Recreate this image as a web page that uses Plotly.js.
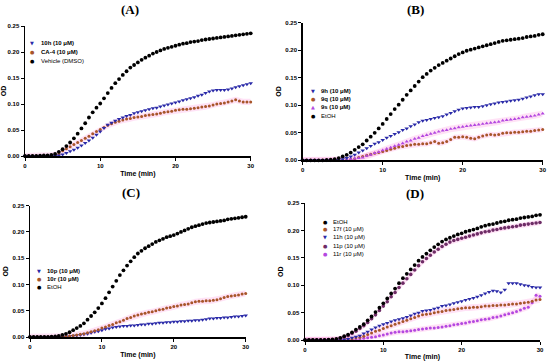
<!DOCTYPE html>
<html><head><meta charset="utf-8">
<script src="https://cdn.plot.ly/plotly-3.0.1.min.js"></script>
<style>html,body{margin:0;padding:0;background:#fff}#c{width:550px;height:361px}</style>
</head><body><div id="c"></div>
<script>
// time points (min), every 0.5 min
var time = [];
for (var i = 0; i <= 60; i++) time.push(i / 2);

// Panel A
var A_10h = [0,0,0,0,0,0,0,0,0.0005,0.001, 0.003,0.006,0.009,0.012,0.016,0.020,0.025,0.030,0.035,0.041, 0.047,0.054,0.060,0.064,0.068,0.071,0.074,0.077,0.079,0.082, 0.084,0.086,0.088,0.090,0.092,0.093,0.095,0.097,0.099,0.101, 0.103,0.105,0.107,0.109,0.111,0.113,0.116,0.118,0.121,0.124, 0.126,0.127,0.127,0.127,0.128,0.130,0.132,0.134,0.136,0.138,0.140];
var A_CA4 = [0,0,0,0,0,0,0.0005,0.001,0.002,0.004, 0.010,0.014,0.018,0.022,0.026,0.030,0.034,0.038,0.043,0.047, 0.051,0.055,0.059,0.062,0.065,0.067,0.069,0.071,0.072,0.074, 0.075,0.076,0.078,0.079,0.080,0.081,0.082,0.084,0.085,0.086, 0.088,0.089,0.090,0.090,0.091,0.092,0.093,0.094,0.095,0.096, 0.098,0.100,0.101,0.102,0.104,0.106,0.108,0.106,0.104,0.104,0.104];
var A_DMSO = [0,0,0,0,0.0005,0.001,0.001,0.002,0.004,0.008, 0.013,0.019,0.026,0.034,0.043,0.053,0.063,0.074,0.084,0.093, 0.101,0.111,0.121,0.131,0.140,0.148,0.156,0.163,0.170,0.175, 0.180,0.185,0.189,0.193,0.197,0.200,0.203,0.206,0.208,0.210, 0.212,0.214,0.216,0.217,0.219,0.220,0.221,0.223,0.224,0.225, 0.226,0.227,0.228,0.229,0.230,0.231,0.232,0.233,0.234,0.235,0.236];

// Panel B
var B_9h = [0,0,0,0,0,0,0,0,0.0005,0.001, 0.002,0.004,0.007,0.010,0.014,0.018,0.022,0.026,0.030,0.033, 0.037,0.041,0.044,0.048,0.051,0.055,0.058,0.062,0.065,0.069, 0.072,0.073,0.075,0.077,0.078,0.080,0.083,0.086,0.089,0.092, 0.094,0.095,0.096,0.097,0.097,0.098,0.100,0.102,0.103,0.105, 0.106,0.107,0.108,0.109,0.110,0.112,0.114,0.116,0.118,0.120,0.120];
var B_9q = [0,0,0,0,0,0,0,0,0,0, 0.0005,0.001,0.002,0.003,0.005,0.007,0.009,0.011,0.013,0.014, 0.016,0.018,0.020,0.022,0.024,0.025,0.027,0.028,0.029,0.029, 0.030,0.030,0.032,0.034,0.031,0.032,0.034,0.038,0.042,0.042, 0.043,0.042,0.040,0.039,0.042,0.044,0.046,0.047,0.046,0.047, 0.049,0.050,0.050,0.051,0.051,0.052,0.053,0.053,0.054,0.055,0.056];
var B_9s = [0,0,0,0,0,0,0,0,0,0, 0.0005,0.001,0.002,0.003,0.004,0.005,0.008,0.010,0.013,0.015, 0.018,0.021,0.023,0.026,0.028,0.031,0.034,0.036,0.039,0.041, 0.044,0.046,0.048,0.050,0.052,0.054,0.055,0.057,0.058,0.060, 0.061,0.062,0.063,0.064,0.065,0.066,0.067,0.068,0.069,0.070, 0.072,0.073,0.074,0.075,0.076,0.078,0.079,0.080,0.081,0.083,0.085];
var B_EtOH = [0,0,0,0,0,0,0.0005,0.001,0.002,0.004, 0.007,0.010,0.014,0.019,0.024,0.029,0.036,0.043,0.050,0.058, 0.066,0.075,0.084,0.093,0.101,0.110,0.119,0.127,0.135,0.143, 0.151,0.157,0.163,0.168,0.173,0.177,0.181,0.185,0.189,0.193, 0.196,0.199,0.201,0.203,0.205,0.207,0.209,0.211,0.213,0.215, 0.217,0.218,0.219,0.220,0.221,0.222,0.224,0.225,0.226,0.228,0.229];

// Panel C
var C_10p = [0,0,0,0,0,0,0,0,0,0, 0.0005,0.001,0.002,0.003,0.004,0.005,0.006,0.008,0.010,0.011, 0.013,0.015,0.016,0.018,0.019,0.020,0.021,0.021,0.022,0.022, 0.023,0.024,0.024,0.025,0.025,0.026,0.027,0.027,0.028,0.028, 0.029,0.029,0.030,0.030,0.031,0.031,0.032,0.032,0.033,0.034, 0.035,0.035,0.036,0.036,0.037,0.037,0.038,0.039,0.039,0.040,0.041];
var C_10r = [0,0,0,0,0,0,0,0,0,0.0005, 0.001,0.002,0.003,0.004,0.005,0.006,0.008,0.010,0.012,0.014, 0.017,0.019,0.022,0.024,0.027,0.029,0.032,0.035,0.037,0.040, 0.042,0.044,0.045,0.047,0.048,0.050,0.052,0.053,0.055,0.056, 0.058,0.059,0.061,0.062,0.063,0.065,0.067,0.068,0.068,0.069, 0.069,0.070,0.071,0.073,0.075,0.077,0.078,0.079,0.080,0.082,0.083];
var C_EtOH = [0,0,0,0,0,0,0.0005,0.001,0.002,0.004, 0.006,0.009,0.013,0.017,0.021,0.026,0.033,0.040,0.047,0.055, 0.064,0.074,0.085,0.096,0.107,0.118,0.127,0.136,0.144,0.152, 0.159,0.164,0.169,0.173,0.177,0.181,0.184,0.187,0.190,0.192, 0.194,0.197,0.200,0.203,0.206,0.209,0.211,0.213,0.215,0.217, 0.218,0.219,0.220,0.221,0.222,0.224,0.225,0.226,0.227,0.228,0.229];

// Panel D
var D_EtOH = [0,0,0,0,0,0,0.0005,0.001,0.002,0.004, 0.007,0.010,0.014,0.019,0.024,0.029,0.036,0.043,0.051,0.059, 0.067,0.076,0.085,0.094,0.104,0.113,0.121,0.129,0.137,0.145, 0.152,0.158,0.164,0.170,0.175,0.180,0.184,0.187,0.190,0.193, 0.195,0.198,0.200,0.202,0.204,0.207,0.209,0.211,0.212,0.214, 0.216,0.217,0.219,0.220,0.221,0.223,0.224,0.225,0.226,0.228,0.229];
var D_17f = [0,0,0,0,0,0,0,0,0,0, 0.0005,0.001,0.002,0.004,0.005,0.007,0.010,0.013,0.016,0.018, 0.021,0.024,0.026,0.029,0.031,0.034,0.036,0.039,0.041,0.044, 0.046,0.047,0.048,0.050,0.051,0.052,0.054,0.055,0.056,0.057, 0.058,0.059,0.059,0.060,0.060,0.061,0.062,0.062,0.063,0.063, 0.064,0.064,0.065,0.066,0.066,0.067,0.068,0.069,0.071,0.073,0.074];
var D_11h = [0,0,0,0,0,0,0,0,0,0, 0.001,0.002,0.004,0.006,0.008,0.012,0.015,0.019,0.023,0.026, 0.029,0.031,0.034,0.036,0.038,0.040,0.042,0.045,0.048,0.050, 0.053,0.054,0.055,0.057,0.059,0.062,0.063,0.065,0.067,0.069, 0.071,0.073,0.075,0.077,0.079,0.082,0.085,0.088,0.090,0.089, 0.087,0.092,0.104,0.104,0.104,0.102,0.100,0.099,0.097,0.096,0.096];
var D_11p = [0,0,0,0,0,0,0,0.0005,0.001,0.003, 0.005,0.008,0.012,0.016,0.021,0.026,0.032,0.039,0.046,0.054, 0.062,0.070,0.079,0.087,0.096,0.104,0.112,0.120,0.128,0.136, 0.143,0.149,0.155,0.161,0.166,0.171,0.175,0.179,0.182,0.184, 0.186,0.188,0.190,0.192,0.194,0.196,0.198,0.199,0.201,0.202, 0.204,0.205,0.206,0.207,0.208,0.210,0.211,0.212,0.213,0.214,0.215];
var D_11r = [0,0,0,0,0,0,0,0,0,0, 0,0,0.0005,0.001,0.002,0.003,0.004,0.005,0.006,0.008, 0.009,0.011,0.013,0.014,0.015,0.015,0.016,0.017,0.018,0.019, 0.020,0.021,0.022,0.022,0.023,0.024,0.025,0.026,0.028,0.029, 0.030,0.031,0.033,0.034,0.035,0.037,0.038,0.039,0.041,0.042, 0.044,0.046,0.048,0.050,0.052,0.055,0.058,0.060,0.068,0.082,0.080];

// error band half-widths (SEM)
var semA_CA4 = 0.006, semB_9q = 0.005, semB_9s = 0.006, semC_10r = 0.006;
var semD_11p = 0.005, semD_17f = 0.006, semD_11r = 0.005;

var yTicks = [0, 0.05, 0.10, 0.15, 0.20, 0.25];
var xTicks = [0, 10, 20, 30];

var BLACK = '#000000', BLUE = '#2a2aa8', ORANGE = '#a8552a', VIOLET = '#b448e0', PLUM = '#6e2c66';
var PINK = 'rgba(255,160,225,0.30)';

var traces = [];
function band(vals, sem, ax) {
  var xs = time.concat(time.slice().reverse());
  var up = vals.map(function(v){return v + sem;});
  var lo = vals.map(function(v){return Math.max(0, v - sem);}).reverse();
  traces.push({x: xs, y: up.concat(lo), xaxis: 'x' + ax, yaxis: 'y' + ax, type: 'scatter', mode: 'lines',
    fill: 'toself', fillcolor: PINK, line: {width: 0}, hoverinfo: 'skip', showlegend: false});
}
function series(vals, ax, color, symbol, size) {
  traces.push({x: time, y: vals, xaxis: 'x' + ax, yaxis: 'y' + ax, type: 'scatter', mode: 'markers',
    marker: {color: color, symbol: symbol, size: size, line: {width: 0}}, cliponaxis: false, showlegend: false});
}

band(A_CA4, semA_CA4, 1);
series(A_CA4, 1, ORANGE, 'circle', 3);
series(A_10h, 1, BLUE, 'triangle-down', 4);
series(A_DMSO, 1, BLACK, 'circle', 3.8);

band(B_9q, semB_9q, 2); band(B_9s, semB_9s, 2);
series(B_9q, 2, ORANGE, 'circle', 3);
series(B_9s, 2, VIOLET, 'triangle-up', 3.6);
series(B_9h, 2, BLUE, 'triangle-down', 4);
series(B_EtOH, 2, BLACK, 'circle', 3.8);

band(C_10r, semC_10r, 3);
series(C_10p, 3, BLUE, 'triangle-down', 4);
series(C_10r, 3, ORANGE, 'circle', 3);
series(C_EtOH, 3, BLACK, 'circle', 3.8);

band(D_11p, semD_11p, 4); band(D_17f, semD_17f, 4); band(D_11r, semD_11r, 4);
series(D_11r, 4, VIOLET, 'circle', 3);
series(D_17f, 4, ORANGE, 'circle', 3);
series(D_11h, 4, BLUE, 'triangle-down', 4);
series(D_11p, 4, PLUM, 'circle', 3.6);
series(D_EtOH, 4, BLACK, 'circle', 3.8);

var W = 550, H = 361;
function px(x){return x / W;} function py(y){return 1 - y / H;}
function xa(x0, x1, anchor) {
  return {domain: [px(x0), px(x1)], range: [0, 30], anchor: anchor, tickvals: xTicks, ticktext: xTicks.map(String),
    showgrid: false, zeroline: false, showline: true, linecolor: '#000', linewidth: 1.5,
    ticks: 'outside', ticklen: 3, tickwidth: 1, tickcolor: '#000',
    tickfont: {family: 'Liberation Sans, Arial', size: 6, color: '#000', weight: 'bold'},
    title: {text: 'Time (min)', font: {family: 'Liberation Sans, Arial', size: 7, color: '#000', weight: 'bold'}, standoff: 3},
    fixedrange: true};
}
function ya(y0, y1, anchor) {
  return {domain: [py(y0), py(y1)], range: [0, 0.25], anchor: anchor, tickvals: yTicks,
    ticktext: yTicks.map(function(v){return v.toFixed(2);}),
    showgrid: false, zeroline: false, showline: true, linecolor: '#000', linewidth: 1.5,
    ticks: 'outside', ticklen: 3, tickwidth: 1, tickcolor: '#000',
    tickfont: {family: 'Liberation Sans, Arial', size: 6, color: '#000', weight: 'bold'},
    title: {text: 'OD', font: {family: 'Liberation Sans, Arial', size: 7, color: '#000', weight: 'bold'}, standoff: 3},
    fixedrange: true};
}

var ann = [];
function title(t, x, y) {
  ann.push({text: t, x: px(x), y: py(y), xref: 'paper', yref: 'paper', showarrow: false, xanchor: 'center', yanchor: 'middle',
    font: {family: 'Liberation Serif, Times New Roman, serif', size: 13, color: '#000', weight: 'bold'}});
}
function legendItem(sym, color, label, mx, tx, y, bold) {
  ann.push({text: sym, x: px(mx), y: py(y), xref: 'paper', yref: 'paper', showarrow: false, xanchor: 'center', yanchor: 'middle',
    font: {family: 'DejaVu Sans', size: 5, color: color}});
  ann.push({text: label, x: px(tx), y: py(y), xref: 'paper', yref: 'paper', showarrow: false, xanchor: 'left', yanchor: 'middle',
    font: {family: 'Liberation Sans, Arial', size: 6, color: '#000', weight: bold ? 'bold' : 'normal'}});
}
title('(A)', 130, 10); title('(B)', 415, 10); title('(C)', 131, 192); title('(D)', 415, 193);

legendItem('▼', BLUE, '10h (10 μM)', 32, 38.5, 43.3, true);
legendItem('●', ORANGE, 'CA-4 (10 μM)', 32, 38.5, 52.3, true);
legendItem('●', BLACK, 'Vehicle (DMSO)', 32, 38.5, 60.7, false);

legendItem('▼', BLUE, '9h (10 μM)', 313.3, 319, 90.7, true);
legendItem('●', ORANGE, '9q (10 μM)', 313.3, 319, 99, true);
legendItem('▲', VIOLET, '9s (10 μM)', 313.3, 319, 107.3, true);
legendItem('●', BLACK, 'EtOH', 313.3, 319, 115.7, false);

legendItem('▼', BLUE, '10p (10 μM)', 39.3, 45, 270.7, true);
legendItem('●', ORANGE, '10r (10 μM)', 39.3, 45, 279.3, true);
legendItem('●', BLACK, 'EtOH', 39.3, 45, 287.3, false);

legendItem('●', BLACK, 'EtOH', 325, 331, 221.7, false);
legendItem('●', ORANGE, '17f (10 μM)', 325, 331, 229.3, false);
legendItem('▼', BLUE, '11h (10 μM)', 325, 331, 237.3, false);
legendItem('●', PLUM, '11p (10 μM)', 325, 331, 245.7, false);
legendItem('●', VIOLET, '11r (10 μM)', 325, 331, 254, false);

var layout = {
  width: W, height: H, margin: {l: 0, r: 0, t: 0, b: 0}, paper_bgcolor: '#fff', plot_bgcolor: 'rgba(0,0,0,0)',
  showlegend: false, hovermode: false,
  xaxis: xa(25, 250.7, 'y'), yaxis: ya(156, 26, 'x'),
  xaxis2: xa(302.7, 542.7, 'y2'), yaxis2: ya(160.3, 22.7, 'x2'),
  xaxis3: xa(30, 245.7, 'y3'), yaxis3: ya(337, 205.7, 'x3'),
  xaxis4: xa(305, 540, 'y4'), yaxis4: ya(340, 203.3, 'x4'),
  annotations: ann
};
Plotly.newPlot('c', traces, layout, {staticPlot: true, displayModeBar: false});
</script></body></html>
